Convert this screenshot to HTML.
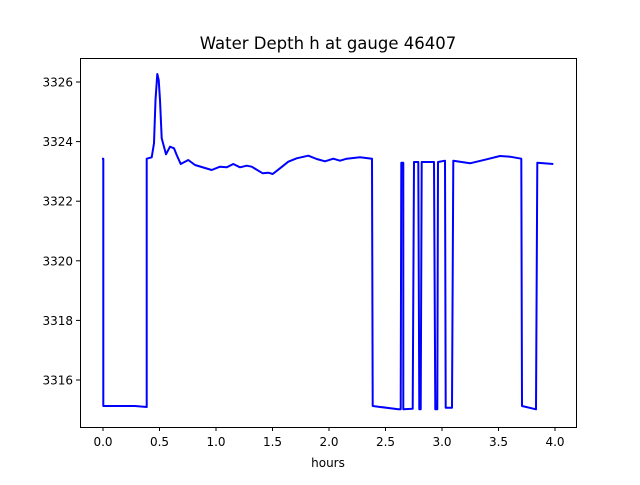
<!DOCTYPE html>
<html><head><style>body{margin:0;background:#fff}</style></head><body>
<svg width="640" height="480" xmlns="http://www.w3.org/2000/svg" font-family="DejaVu Sans, Liberation Sans, sans-serif">
<rect width="640" height="480" fill="#fff"/>
<text x="328" y="49" font-size="16.5" text-anchor="middle">Water Depth h at gauge 46407</text>
<polyline fill="none" stroke="#0000ff" stroke-width="2" stroke-linejoin="round" points="
102,158.7 103.3,158.7 103.3,406 135,406 146.7,407 146.7,158.7 151.7,157.3 154,143.3 155.5,100 157.3,74 158.7,80 160,100 161.7,138.3 166,154.3 170,146.7 174,148.3 176.7,155 180.7,164 188.3,160 195,165 211.7,170 220,166.7 226.7,167.3 233.3,164 240,167.3 246.7,165.7 251.7,166.7 262.7,173.3 268.3,172.7 272.7,174 280,168.3 288.3,161.7 296.7,158.3 308.3,155.7 316.7,159 325,161.3 333.3,158.7 340,160.7 346.7,158.7 360,157.3 372,158.7
372.7,406 398.3,409.3 400.7,409.3 401.3,162.7 403.3,162.7 403.3,409.3 412.7,408.7 414,162 418.3,162 419.3,409.3 420.7,409.3 421.7,162 434,162 435.3,409.3 437.3,409.3 438,162 445,160.7 445.7,407.7 452,407.7 453.3,160.7 470,163.3 486.7,159.3 500,156 510,156.7 521.3,158.7 522,406 536,409.3 537.3,162.7 553.3,164"/>
<rect x="80.5" y="58.5" width="496" height="369" fill="none" stroke="#000" stroke-width="1"/>
<g stroke="#000" stroke-width="1">
<line x1="103" y1="427" x2="103" y2="431"/><line x1="159.5" y1="427" x2="159.5" y2="431"/><line x1="216" y1="427" x2="216" y2="431"/><line x1="272.5" y1="427" x2="272.5" y2="431"/><line x1="329" y1="427" x2="329" y2="431"/><line x1="385.5" y1="427" x2="385.5" y2="431"/><line x1="442" y1="427" x2="442" y2="431"/><line x1="498.5" y1="427" x2="498.5" y2="431"/><line x1="555" y1="427" x2="555" y2="431"/>
<line x1="76" y1="82" x2="80" y2="82"/><line x1="76" y1="141.6" x2="80" y2="141.6"/><line x1="76" y1="201.2" x2="80" y2="201.2"/><line x1="76" y1="260.8" x2="80" y2="260.8"/><line x1="76" y1="320.4" x2="80" y2="320.4"/><line x1="76" y1="380" x2="80" y2="380"/>
</g>
<g font-size="12" text-anchor="middle">
<text x="103" y="446">0.0</text><text x="159.5" y="446">0.5</text><text x="216" y="446">1.0</text><text x="272.5" y="446">1.5</text><text x="329" y="446">2.0</text><text x="385.5" y="446">2.5</text><text x="442" y="446">3.0</text><text x="498.5" y="446">3.5</text><text x="555" y="446">4.0</text>
</g>
<g font-size="12" text-anchor="end">
<text x="73" y="86.5">3326</text><text x="73" y="146">3324</text><text x="73" y="205.7">3322</text><text x="73" y="265.3">3320</text><text x="73" y="325">3318</text><text x="73" y="384.5">3316</text>
</g>
<text x="328" y="467" font-size="12" text-anchor="middle">hours</text>
</svg>
</body></html>
